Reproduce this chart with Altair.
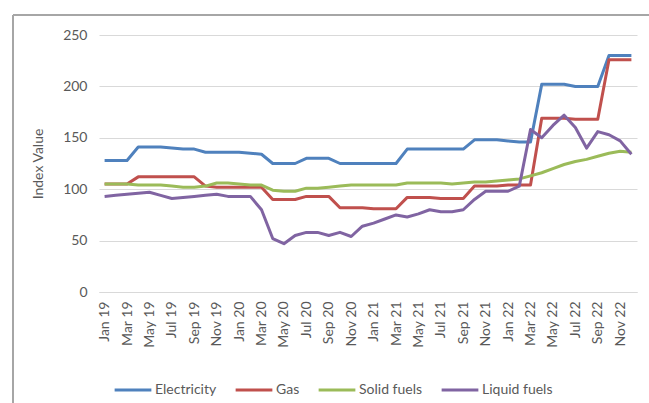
import altair as alt
import pandas as pd

months = [
    "Jan 19", "Feb 19", "Mar 19", "Apr 19", "May 19", "Jun 19", "Jul 19", "Aug 19", "Sep 19", "Oct 19", "Nov 19", "Dec 19",
    "Jan 20", "Feb 20", "Mar 20", "Apr 20", "May 20", "Jun 20", "Jul 20", "Aug 20", "Sep 20", "Oct 20", "Nov 20", "Dec 20",
    "Jan 21", "Feb 21", "Mar 21", "Apr 21", "May 21", "Jun 21", "Jul 21", "Aug 21", "Sep 21", "Oct 21", "Nov 21", "Dec 21",
    "Jan 22", "Feb 22", "Mar 22", "Apr 22", "May 22", "Jun 22", "Jul 22", "Aug 22", "Sep 22", "Oct 22", "Nov 22", "Dec 22",
]
tick_labels = months[::2]

electricity = [128, 128, 128, 141, 141, 141, 140, 139, 139, 136, 136, 136,
               136, 135, 134, 125, 125, 125, 130, 130, 130, 125, 125, 125,
               125, 125, 125, 139, 139, 139, 139, 139, 139, 148, 148, 148,
               147, 146, 146, 202, 202, 202, 200, 200, 200, 230, 230, 230]
gas = [105, 105, 105, 112, 112, 112, 112, 112, 112, 103, 102, 102,
       102, 102, 102, 90, 90, 90, 93, 93, 93, 82, 82, 82,
       81, 81, 81, 92, 92, 92, 91, 91, 91, 103, 103, 103,
       104, 104, 104, 169, 169, 169, 168, 168, 168, 226, 226, 226]
solid_fuels = [105, 105, 105, 104, 104, 104, 103, 102, 102, 103, 106, 106,
               105, 104, 104, 99, 98, 98, 101, 101, 102, 103, 104, 104,
               104, 104, 104, 106, 106, 106, 106, 105, 106, 107, 107, 108,
               109, 110, 113, 116, 120, 124, 127, 129, 132, 135, 137, 136]
liquid_fuels = [93, 94, 95, 96, 97, 94, 91, 92, 93, 94, 95, 93,
                93, 93, 80, 52, 47, 55, 58, 58, 55, 58, 54, 64,
                67, 71, 75, 73, 76, 80, 78, 78, 80, 90, 98, 98,
                98, 103, 158, 150, 162, 172, 160, 140, 156, 153, 147, 134]

series_names = ["Electricity", "Gas", "Solid fuels", "Liquid fuels"]
series_values = [electricity, gas, solid_fuels, liquid_fuels]
series_colors = ["#4F81BD", "#C0504D", "#9BBB59", "#8064A2"]

rows = []
for name, vals in zip(series_names, series_values):
    for m, v in zip(months, vals):
        rows.append({"Month": m, "Series": name, "Value": v})
df = pd.DataFrame(rows)

FONT = "Lato"
TXT = "#595959"

lines = alt.Chart(df).mark_line(strokeWidth=3, strokeJoin="round").encode(
    x=alt.X("Month:O", sort=months,
            scale=alt.Scale(type="point", padding=0.5),
            axis=alt.Axis(title=None, values=tick_labels, labelAngle=-90,
                          labelFont=FONT, labelFontSize=14, labelColor=TXT,
                          ticks=False, labelPadding=9, domainColor="#D9D9D9",
                          domainWidth=1, grid=False)),
    y=alt.Y("Value:Q", scale=alt.Scale(domain=[0, 250], nice=False),
            axis=alt.Axis(title="Index Value", values=[0, 50, 100, 150, 200, 250],
                          labelFont=FONT, labelFontSize=14, labelColor=TXT,
                          titleFont=FONT, titleFontSize=14, titleColor=TXT,
                          titleFontWeight="normal", titleX=-54,
                          ticks=False, labelPadding=12, domain=False,
                          grid=True, gridColor="#D9D9D9", gridWidth=1)),
    color=alt.Color("Series:N", sort=series_names,
                    scale=alt.Scale(domain=series_names, range=series_colors),
                    legend=alt.Legend(title=None, orient="none", direction="horizontal",
                                      legendX=14, legendY=335,
                                      symbolType="stroke", symbolSize=1350,
                                      symbolStrokeWidth=3, labelFont=FONT,
                                      labelFontSize=14, labelColor=TXT,
                                      labelOffset=2, columnPadding=12)),
)

border_left = alt.Chart(df).mark_rule(color="#A6A6A6", strokeWidth=1.5).encode(
    x=alt.value(-86), y=alt.value(-20), y2=alt.value(400)
)
border_top = alt.Chart(df).mark_rule(color="#A6A6A6", strokeWidth=1.5).encode(
    x=alt.value(-86), x2=alt.value(700), y=alt.value(-20)
)

chart = alt.layer(border_left, border_top, lines).properties(
    width=538, height=257,
    autosize=alt.AutoSizeParams(type="none"),
    padding={"left": 99, "top": 35, "right": 12, "bottom": 111},
    background="white",
).configure_view(stroke=None)

chart.save("out.html", embed_options={"renderer": "svg", "actions": False})
